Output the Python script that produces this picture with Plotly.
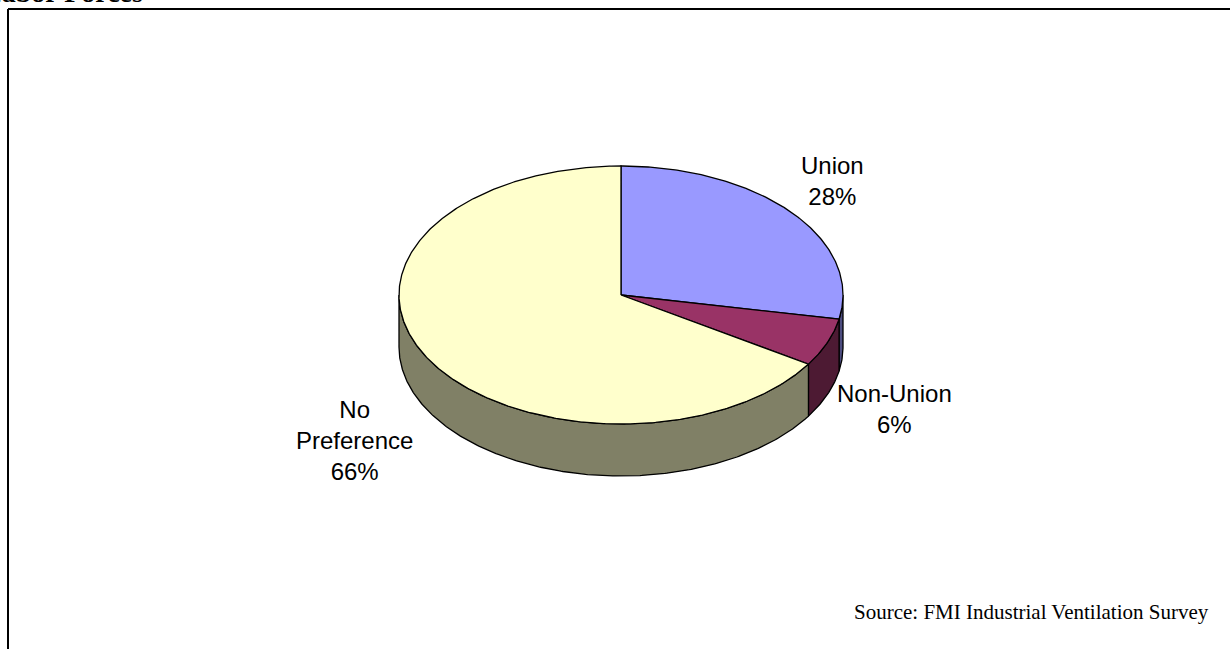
import numpy as np
import plotly.graph_objects as go

# Survey shares (percent)
categories = ["Union", "Non-Union", "No Preference"]
shares = [28, 6, 66]
top_colors = ["#9999FF", "#993366", "#FFFFCC"]
side_colors = ["#4D4D80", "#4D1A33", "#808066"]

W, H = 1230, 649
CX, CY = 621, 295      # centre of the pie's top face
RX, RY = 222, 129      # ellipse radii of the top face
DEPTH = 52             # thickness of the disc

fig = go.Figure()


def ell(theta_deg, dy=0.0):
    t = np.radians(theta_deg)
    return CX + RX * np.sin(t), CY - RY * np.cos(t) + dy


# slice boundaries, clockwise from 12 o'clock
bounds = np.concatenate([[0], np.cumsum(shares)]) / sum(shares) * 360.0

# side walls (only the front half, 90..270 degrees, is visible)
for i in range(len(shares)):
    a, b = max(bounds[i], 90.0), min(bounds[i + 1], 270.0)
    if b <= a:
        continue
    th = np.linspace(a, b, max(int((b - a) * 2), 4))
    xt, yt = ell(th)
    xb, yb = ell(th[::-1], DEPTH)
    xs = np.concatenate([xt, xb, xt[:1]])
    ys = np.concatenate([yt, yb, yt[:1]])
    fig.add_trace(go.Scatter(x=xs, y=ys, mode="lines", fill="toself",
                             fillcolor=side_colors[i],
                             line=dict(color="black", width=1.3),
                             hoverinfo="skip", showlegend=False))

# top faces
for i in range(len(shares)):
    a, b = bounds[i], bounds[i + 1]
    th = np.linspace(a, b, max(int((b - a) * 2), 4))
    xt, yt = ell(th)
    xs = np.concatenate([[CX], xt, [CX]])
    ys = np.concatenate([[CY], yt, [CY]])
    fig.add_trace(go.Scatter(x=xs, y=ys, mode="lines", fill="toself",
                             fillcolor=top_colors[i],
                             line=dict(color="black", width=1.3),
                             name=categories[i], hoverinfo="skip",
                             showlegend=False))

# slice labels
label_pos = [(832, 181), (894, 409), (354, 440)]
for name, val, (lx, ly) in zip(categories, shares, label_pos):
    fig.add_annotation(x=lx, y=ly, xref="x", yref="y",
                       text=f"{name.replace(' ', '<br>')}<br>{val}%",
                       showarrow=False, xanchor="center", yanchor="middle",
                       font=dict(family="Liberation Sans, Arial", size=24,
                                 color="black"))

# source note
fig.add_annotation(x=1211, y=612, xref="x", yref="y",
                   text="Source: FMI Industrial Ventilation Survey",
                   showarrow=False, xanchor="right", yanchor="middle",
                   font=dict(family="Liberation Serif, Times New Roman",
                             size=21, color="black"))

# heading running off the top edge of the page
fig.add_annotation(x=-19 / W, y=1 - 10 / H, xref="paper", yref="paper",
                   text="<b>Labor Forces</b>",
                   showarrow=False, xanchor="left", yanchor="bottom",
                   font=dict(family="Liberation Serif, Times New Roman",
                             size=28, color="black"))

# frame: top and left borders
fig.add_shape(type="line", x0=8, x1=1230, y0=9, y1=9, xref="x", yref="y",
              line=dict(color="black", width=2))
fig.add_shape(type="line", x0=8, x1=8, y0=9, y1=660, xref="x", yref="y",
              line=dict(color="black", width=2))

fig.update_layout(
    width=W, height=H,
    margin=dict(l=0, r=0, t=0, b=0),
    paper_bgcolor="white", plot_bgcolor="white",
    xaxis=dict(range=[0, W], visible=False, fixedrange=True),
    yaxis=dict(range=[H, 0], visible=False, fixedrange=True),
)

fig.write_html("out.html")
